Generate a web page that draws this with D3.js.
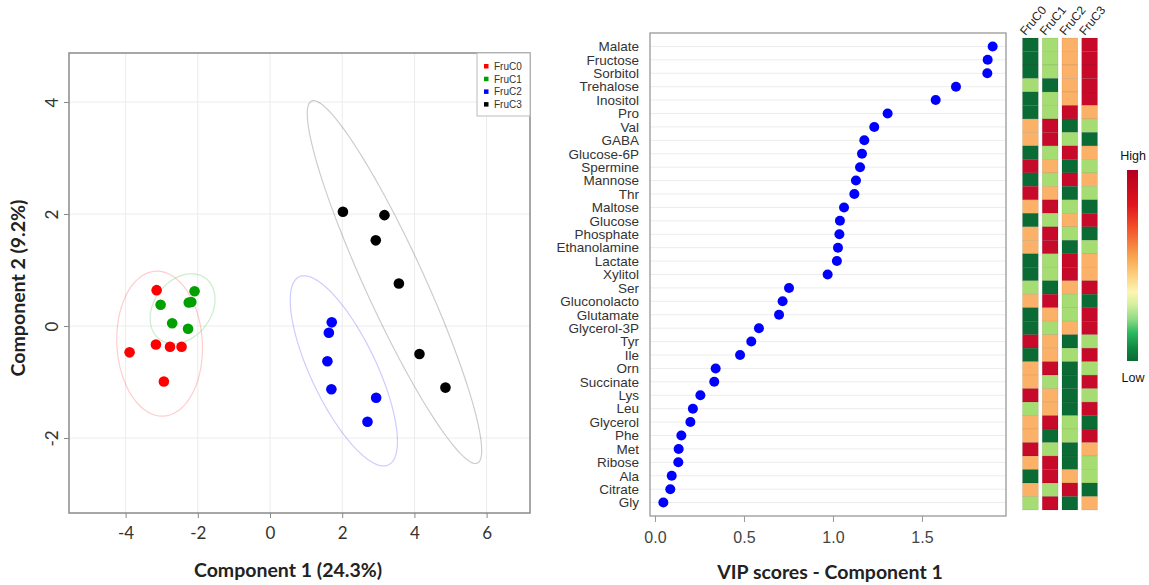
<!DOCTYPE html>
<html><head><meta charset="utf-8">
<script src="https://cdn.jsdelivr.net/npm/d3@7"></script>
<style>body{margin:0;background:#fff;} svg{display:block;}</style>
</head><body><svg id="c" width="1149" height="585"></svg>
<script>
// ---------- data ----------
const groups = ["FruC0", "FruC1", "FruC2", "FruC3"];
const groupColors = ["#ff0000", "#00a000", "#0000ff", "#000000"];

const comp1_FruC0 = [-3.14, -3.16, -2.77, -2.45, -3.89, -2.94];
const comp2_FruC0 = [0.64, -0.33, -0.37, -0.37, -0.47, -0.99];
const comp1_FruC1 = [-2.09, -3.03, -2.25, -2.71, -2.27, -2.18];
const comp2_FruC1 = [0.62, 0.38, 0.42, 0.05, -0.05, 0.43];
const comp1_FruC2 = [1.71, 1.63, 1.59, 1.70, 2.94, 2.70];
const comp2_FruC2 = [0.065, -0.12, -0.63, -1.13, -1.28, -1.71];
const comp1_FruC3 = [2.02, 3.17, 2.93, 3.57, 4.14, 4.86];
const comp2_FruC3 = [2.04, 1.98, 1.53, 0.76, -0.50, -1.10];

const scoreXTicks = [-4, -2, 0, 2, 4, 6];
const scoreYTicks = [-2, 0, 2, 4];
const scoreXLabel = "Component 1 (24.3%)";
const scoreYLabel = "Component 2 (9.2%)";

const metabolites = ["Malate","Fructose","Sorbitol","Trehalose","Inositol","Pro","Val","GABA",
  "Glucose-6P","Spermine","Mannose","Thr","Maltose","Glucose","Phosphate","Ethanolamine",
  "Lactate","Xylitol","Ser","Gluconolacto","Glutamate","Glycerol-3P","Tyr","Ile","Orn",
  "Succinate","Lys","Leu","Glycerol","Phe","Met","Ribose","Ala","Citrate","Gly"];
const vipScores = [1.897,1.869,1.867,1.691,1.577,1.307,1.232,1.176,1.163,1.152,1.129,1.120,
  1.062,1.039,1.036,1.028,1.022,0.970,0.753,0.717,0.697,0.584,0.541,0.478,0.341,0.333,
  0.255,0.213,0.199,0.148,0.133,0.131,0.094,0.086,0.047];
const vipTicks = [0, 0.5, 1.0, 1.5];
const vipLabel = "VIP scores - Component 1";

// heatmap levels: 1 = low ... 4 = high
const heat_FruC0 = [1,1,1,2,1,1,3,3,1,4,1,4,3,1,3,3,1,1,2,3,1,1,4,1,3,3,4,2,3,3,4,3,1,3,2];
const heat_FruC1 = [2,2,2,1,2,2,4,4,2,3,2,3,4,2,4,4,2,2,1,4,3,2,3,3,4,2,3,3,4,1,2,4,4,2,4];
const heat_FruC2 = [3,3,3,3,3,4,1,2,4,1,4,1,2,3,2,1,4,4,3,2,2,3,1,2,1,1,1,1,2,2,1,1,3,4,1];
const heat_FruC3 = [4,4,4,4,4,3,2,1,3,2,3,2,1,4,1,2,3,3,4,1,4,4,2,4,2,4,2,4,1,4,3,2,2,1,3];
const heatLevels = [1, 2, 3, 4];
const heatLevelColors = ["#0b6b35", "#a6dd72", "#fbb168", "#c70a29"];
const colorbarLabels = ["High", "Low"];

// ---------- drawing ----------
const svg = d3.select("#c");
svg.append("rect").attr("width",1149).attr("height",585).attr("fill","#fff");

const calibri = "Lato, 'Open Sans', sans-serif";
const arial = "'Liberation Sans', Arial, sans-serif";

// ===== Score plot =====
const L = {x0: 69, x1: 530, y0: 53, y1: 513};
const sx = d3.scaleLinear().domain([-5.568, 7.202]).range([L.x0, L.x1]);
const sy = d3.scaleLinear().domain([4.875, -3.339]).range([L.y0, L.y1]);

const scoreData = [
  {g: groups[0], c: groupColors[0], x: comp1_FruC0, y: comp2_FruC0},
  {g: groups[1], c: groupColors[1], x: comp1_FruC1, y: comp2_FruC1},
  {g: groups[2], c: groupColors[2], x: comp1_FruC2, y: comp2_FruC2},
  {g: groups[3], c: groupColors[3], x: comp1_FruC3, y: comp2_FruC3}
];

const sp = svg.append("g");
// grid
sp.append("g").selectAll("line").data(scoreXTicks).join("line")
  .attr("x1", d => sx(d)).attr("x2", d => sx(d)).attr("y1", L.y0).attr("y2", L.y1)
  .attr("stroke", "#ececec").attr("stroke-width", 1);
sp.append("g").selectAll("line").data(scoreYTicks).join("line")
  .attr("y1", d => sy(d)).attr("y2", d => sy(d)).attr("x1", L.x0).attr("x2", L.x1)
  .attr("stroke", "#ececec").attr("stroke-width", 1);

// 95% confidence ellipses (computed from the data, as ellipse::ellipse)
const t95 = Math.sqrt(5.991465);
function ellipsePts(xs, ys) {
  const n = xs.length;
  const mx = d3.mean(xs), my = d3.mean(ys);
  let vxx = 0, vyy = 0, vxy = 0;
  for (let i = 0; i < n; i++) {
    vxx += (xs[i]-mx)**2; vyy += (ys[i]-my)**2; vxy += (xs[i]-mx)*(ys[i]-my);
  }
  vxx /= (n-1); vyy /= (n-1); vxy /= (n-1);
  const scx = Math.sqrt(vxx), scy = Math.sqrt(vyy);
  const r = vxy / (scx*scy);
  const d = Math.acos(r);
  const pts = [];
  for (let k = 0; k <= 120; k++) {
    const a = 2*Math.PI*k/120;
    pts.push([mx + t95*scx*Math.cos(a + d/2), my + t95*scy*Math.cos(a - d/2)]);
  }
  return pts;
}
const line = d3.line().x(d => sx(d[0])).y(d => sy(d[1])).curve(d3.curveLinearClosed);
sp.append("g").selectAll("path").data(scoreData).join("path")
  .attr("d", d => line(ellipsePts(d.x, d.y)))
  .attr("fill", "none").attr("stroke", d => d.c).attr("stroke-opacity", 0.2).attr("stroke-width", 1.2);

// points
scoreData.forEach(grp => {
  sp.append("g").selectAll("circle").data(grp.x.map((v, i) => [v, grp.y[i]])).join("circle")
    .attr("cx", d => sx(d[0])).attr("cy", d => sy(d[1])).attr("r", 5.3)
    .attr("fill", grp.c);
});

// box
sp.append("rect").attr("x", L.x0).attr("y", L.y0).attr("width", L.x1-L.x0).attr("height", L.y1-L.y0)
  .attr("fill", "none").attr("stroke", "#8a8a8a").attr("stroke-width", 1.5);

// axes
const xAxL = sp.append("g").attr("transform", `translate(0,${L.y1})`)
  .call(d3.axisBottom(sx).tickValues(scoreXTicks).tickSize(5).tickPadding(9).tickFormat(d => String(d)));
xAxL.select(".domain").remove();
xAxL.selectAll("line").attr("stroke", "#888");
xAxL.selectAll("text").attr("font-family", calibri).attr("font-size", 17).attr("fill", "#333");

const yAxL = sp.append("g").attr("transform", `translate(${L.x0},0)`)
  .call(d3.axisLeft(sy).tickValues(scoreYTicks).tickSize(5).tickPadding(0).tickFormat(d => String(d)));
yAxL.select(".domain").remove();
yAxL.selectAll("line").attr("stroke", "#888");
yAxL.selectAll("text").attr("font-family", calibri).attr("font-size", 17).attr("fill", "#333")
  .attr("x", null).attr("dy", null).attr("text-anchor", "middle")
  .attr("transform", "translate(-17,0) rotate(-90)").attr("dy", "0.35em");

// legend
const lg = sp.append("g");
lg.append("rect").attr("x", 477).attr("y", L.y0).attr("width", L.x1-477).attr("height", 63)
  .attr("fill", "#fff").attr("stroke", "#bbb").attr("stroke-width", 1);
groups.forEach((g, i) => {
  lg.append("rect").attr("x", 484).attr("y", 64 + i*12.7).attr("width", 4.5).attr("height", 4.5).attr("fill", groupColors[i]);
  lg.append("text").attr("x", 494).attr("y", 66.3 + i*12.7).attr("dy", "0.35em")
    .attr("font-family", arial).attr("font-size", 10).attr("fill", "#333").text(g);
});

// titles
sp.append("text").attr("x", 288).attr("y", 577).attr("text-anchor", "middle")
  .attr("font-family", calibri).attr("font-weight", "bold").attr("font-size", 19.5).attr("fill", "#222").text(scoreXLabel);
sp.append("text").attr("transform", "translate(25,288) rotate(-90)").attr("text-anchor", "middle")
  .attr("font-family", calibri).attr("font-weight", "bold").attr("font-size", 19.5).attr("fill", "#222").text(scoreYLabel);

// ===== VIP plot =====
const R = {x0: 650, x1: 1006, y0: 33, y1: 516};
const vx = d3.scaleLinear().domain([-0.028, 1.972]).range([R.x0, R.x1]);
const vy = d3.scalePoint().domain(metabolites).range([R.y0, R.y1]).padding(1);

const vp = svg.append("g");
vp.append("g").selectAll("line").data(metabolites).join("line")
  .attr("x1", R.x0).attr("x2", R.x1).attr("y1", d => vy(d)).attr("y2", d => vy(d))
  .attr("stroke", "#ececec").attr("stroke-width", 1);
vp.append("g").selectAll("circle").data(metabolites).join("circle")
  .attr("cx", (d, i) => vx(vipScores[i])).attr("cy", d => vy(d)).attr("r", 5)
  .attr("fill", "#0000ff");
vp.append("rect").attr("x", R.x0).attr("y", R.y0).attr("width", R.x1-R.x0).attr("height", R.y1-R.y0)
  .attr("fill", "none").attr("stroke", "#999").attr("stroke-width", 1.3);

const xAxR = vp.append("g").attr("transform", `translate(0,${R.y1})`)
  .call(d3.axisBottom(vx).tickValues(vipTicks).tickSize(6).tickPadding(10).tickFormat(d3.format(".1f")));
xAxR.select(".domain").remove();
xAxR.selectAll("line").attr("stroke", "#999");
xAxR.selectAll("text").attr("font-family", arial).attr("font-size", 16).attr("fill", "#444");

const yAxR = vp.append("g").attr("transform", `translate(${R.x0},0)`)
  .call(d3.axisLeft(vy).tickSize(0).tickPadding(11));
yAxR.select(".domain").remove();
yAxR.selectAll("text").attr("font-family", arial).attr("font-size", 13.5).attr("fill", "#333");

vp.append("text").attr("x", 830).attr("y", 579).attr("text-anchor", "middle")
  .attr("font-family", calibri).attr("font-weight", "bold").attr("font-size", 19.5).attr("fill", "#222").text(vipLabel);

// ===== Heatmap =====
const heatCols = [heat_FruC0, heat_FruC1, heat_FruC2, heat_FruC3];
const hx = d3.scaleBand().domain(groups).range([1022.5, 1097.5]).paddingInner(0.2);
const hy = d3.scaleBand().domain(metabolites).range([38, 510]);
const hc = d3.scaleOrdinal().domain(heatLevels).range(heatLevelColors);

const hp = svg.append("g");
groups.forEach((g, j) => {
  hp.append("g").selectAll("rect").data(metabolites).join("rect")
    .attr("x", hx(g)).attr("y", d => hy(d)).attr("width", hx.bandwidth()).attr("height", hy.bandwidth())
    .attr("fill", (d, i) => hc(heatCols[j][i]))
    .attr("stroke", "rgba(0,0,0,0.12)").attr("stroke-width", 0.6);
  hp.append("text")
    .attr("transform", `translate(${hx(g) + 3},${36}) rotate(-50)`)
    .attr("font-family", arial).attr("font-size", 12).attr("fill", "#222").text(g);
});

// colour bar
const defs = svg.append("defs");
const grad = defs.append("linearGradient").attr("id", "cb").attr("x1", 0).attr("x2", 0).attr("y1", 0).attr("y2", 1);
const cbStops = [[0, "#b4001e"], [0.18, "#e0141c"], [0.3, "#f2502a"], [0.45, "#f9a24e"], [0.55, "#fcd07f"],
  [0.64, "#fbf6b0"], [0.7, "#d9f0a0"], [0.78, "#8fdc84"], [0.85, "#2dbb60"], [0.93, "#108a42"], [1, "#0a6a34"]];
grad.selectAll("stop").data(cbStops).join("stop").attr("offset", d => d[0]).attr("stop-color", d => d[1]);
svg.append("rect").attr("x", 1127).attr("y", 170).attr("width", 11).attr("height", 191).attr("fill", "url(#cb)");
svg.append("text").attr("x", 1133).attr("y", 160).attr("text-anchor", "middle")
  .attr("font-family", arial).attr("font-size", 12.5).attr("fill", "#111").text(colorbarLabels[0]);
svg.append("text").attr("x", 1133).attr("y", 382).attr("text-anchor", "middle")
  .attr("font-family", arial).attr("font-size", 12.5).attr("fill", "#111").text(colorbarLabels[1]);
</script></body></html>
